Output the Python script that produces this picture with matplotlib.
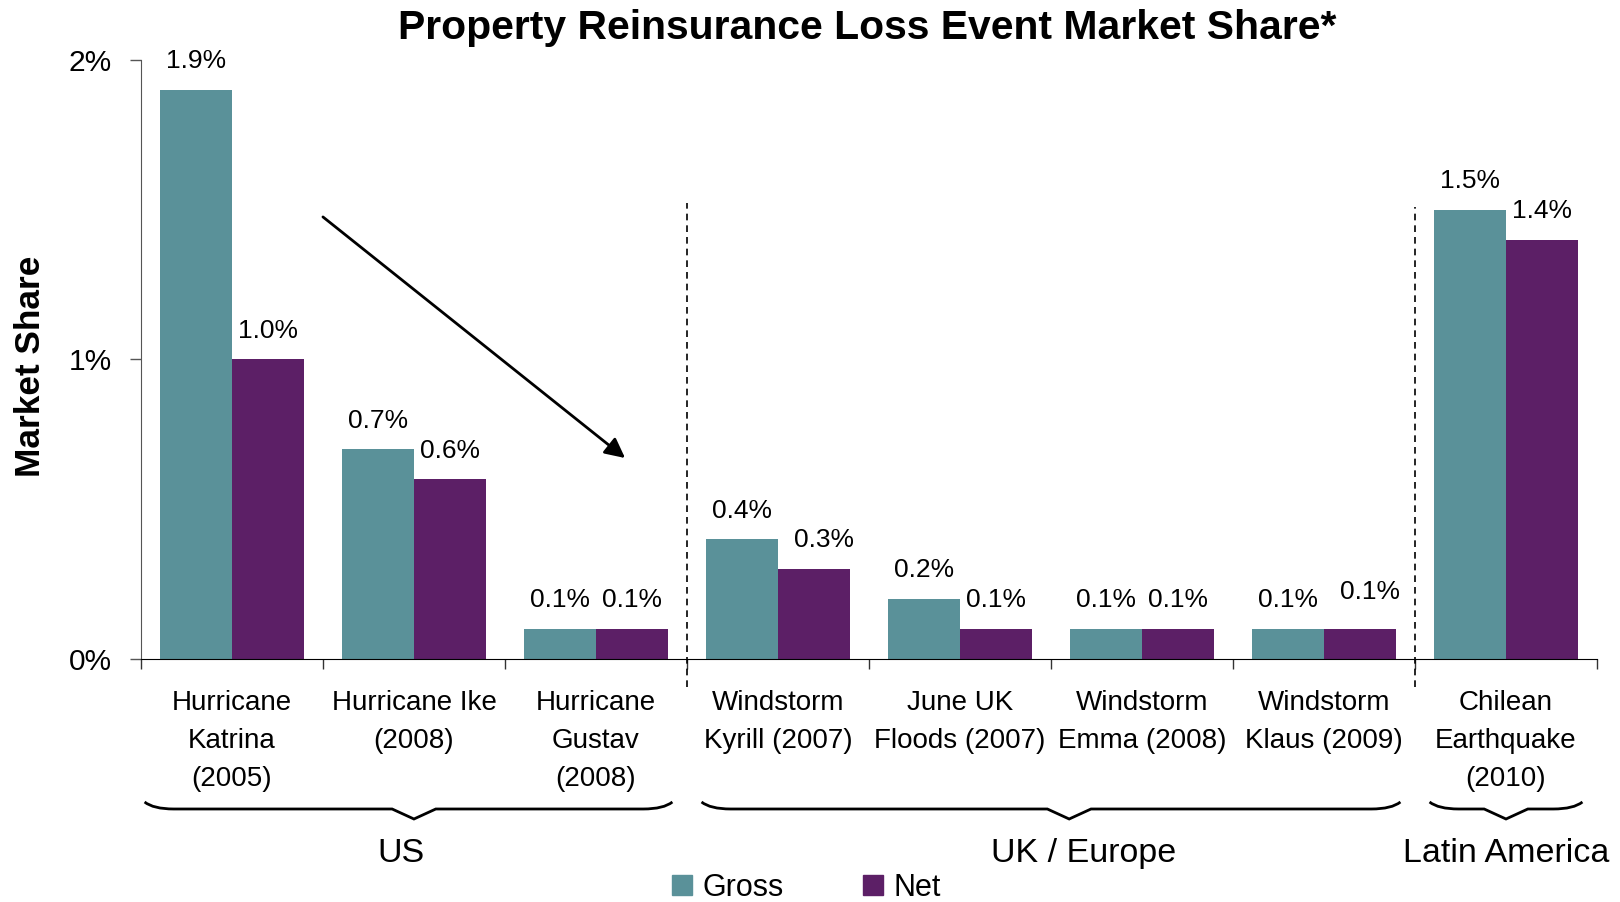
import numpy as np
import matplotlib.pyplot as plt
from matplotlib.path import Path
from matplotlib.patches import PathPatch, Patch
from matplotlib.transforms import blended_transform_factory

plt.rcParams['font.family'] = ['Liberation Sans', 'DejaVu Sans']

# market share by loss event, in percent
events = ['Hurricane\nKatrina\n(2005)', 'Hurricane Ike\n(2008)', 'Hurricane\nGustav\n(2008)',
          'Windstorm\nKyrill (2007)', 'June UK\nFloods (2007)', 'Windstorm\nEmma (2008)',
          'Windstorm\nKlaus (2009)', 'Chilean\nEarthquake\n(2010)']
gross = [1.9, 0.7, 0.1, 0.4, 0.2, 0.1, 0.1, 1.5]
net = [1.0, 0.6, 0.1, 0.3, 0.1, 0.1, 0.1, 1.4]

# regions: (name, first event index, last event index)
regions = [('US', 0, 2), ('UK / Europe', 3, 6), ('Latin America', 7, 7)]
# where each region name and brace point sit along the x axis
region_label_x = [0.93, 4.68, 7.0]
region_tip_x = [1.0, 4.6, 7.0]

gross_color = '#5a9199'
net_color = '#5c1f66'

fig = plt.figure(figsize=(16.2, 9.02), dpi=100)
ax = fig.add_axes([0.087, 0.2694, 0.8988, 0.6641])

x = np.arange(len(events))
w = 0.395
ax.bar(x - w / 2, gross, w, color=gross_color, label='Gross')
ax.bar(x + w / 2, net, w, color=net_color, label='Net')

# value labels
for i in range(len(events)):
    ax.annotate(f'{gross[i]:.1f}%', (x[i] - w / 2, gross[i]), xytext=(0, 12),
                textcoords='offset points', ha='center', va='bottom', fontsize=19)
    dy = 18 if i == 6 else 12
    dx = 7 if i in (3, 6) else 0
    ax.annotate(f'{net[i]:.1f}%', (x[i] + w / 2, net[i]), xytext=(dx, dy),
                textcoords='offset points', ha='center', va='bottom', fontsize=19)

ax.set_xlim(-0.5, len(events) - 0.5)
ax.set_ylim(0, 2)
ax.set_yticks([0, 1, 2])
ax.set_yticklabels(['0%', '1%', '2%'], fontsize=21.5)
ax.tick_params(axis='y', length=8, width=1, pad=13, color='#555555')
ax.set_xticks(x)
ax.set_xticklabels(events, fontsize=20, linespacing=1.62)
ax.tick_params(axis='x', which='major', length=0, pad=22)
ax.set_xticks(np.arange(-0.5, len(events)), minor=True)
ax.tick_params(axis='x', which='minor', length=7, width=1, color='#333333')
for s in ['top', 'right']:
    ax.spines[s].set_visible(False)
ax.spines['left'].set_color('#555555')

# dashed separators between regions
ax.axvline(2.5, ymin=-0.047, ymax=0.761, color='black', lw=1.2, ls=(0, (4, 3)), clip_on=False)
ax.axvline(6.5, ymin=-0.047, ymax=0.755, color='black', lw=1.2, ls=(0, (4, 3)), clip_on=False)

# declining trend arrow across the US hurricanes
ax.annotate('', xy=(2.16, 0.671), xytext=(0.5, 1.476),
            arrowprops=dict(arrowstyle='-|>,head_length=0.6,head_width=0.3',
                            mutation_scale=20, lw=2, color='black',
                            shrinkA=0, shrinkB=0))

# curly braces under the category labels
tr = blended_transform_factory(ax.transData, ax.transAxes)


def brace(x0, x1, xm, y_top=-0.2387, depth=0.0117, tip=0.0167, curl=0.16, v=0.12):
    yf = y_top - depth
    verts = [(x0, y_top), (x0 + curl * 0.3, yf), (x0 + curl, yf),
             (xm - v, yf), (xm, yf - tip), (xm + v, yf),
             (x1 - curl, yf), (x1 - curl * 0.3, yf), (x1, y_top)]
    codes = [Path.MOVETO, Path.CURVE3, Path.CURVE3,
             Path.LINETO, Path.LINETO, Path.LINETO,
             Path.LINETO, Path.CURVE3, Path.CURVE3]
    ax.add_patch(PathPatch(Path(verts, codes), fill=False, lw=2, color='black',
                           transform=tr, clip_on=False))


for (name, a, b), lx, tx in zip(regions, region_label_x, region_tip_x):
    left = a - 0.5 + (0.02 if a == 0 else 0.08)
    brace(left, b + 0.5 - 0.08, tx)
    ax.text(lx, -0.325, name, transform=tr, ha='center', va='center', fontsize=24.5)

fig.text(0.535, 0.969, 'Property Reinsurance Loss Event Market Share*',
         ha='center', va='center', fontsize=29.4, fontweight='bold')
fig.text(0.019, 0.594, 'Market Share', rotation=90, ha='center', va='center',
         fontsize=25.4, fontweight='bold')

handles = [Patch(color=gross_color, label='Gross'), Patch(color=net_color, label='Net')]
fig.legend(handles=handles, loc='center', bbox_to_anchor=(0.498, 0.016), ncol=2,
           frameon=False, fontsize=22, handlelength=0.65, handleheight=0.65,
           handletextpad=0.35, columnspacing=2.6)

fig.savefig('out.png', dpi=100)
